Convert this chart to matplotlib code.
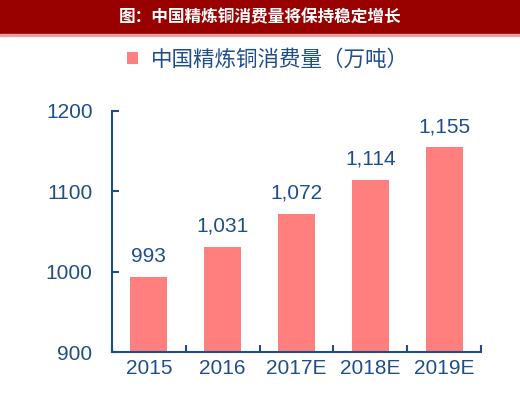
import numpy as np
import matplotlib.pyplot as plt
from matplotlib.patches import Rectangle

years = ['2015', '2016', '2017E', '2018E', '2019E']
consumption = [993, 1031, 1072, 1114, 1155]
value_labels = ['993', '1,031', '1,072', '1,114', '1,155']
y_ticks = [900, 1000, 1100, 1200]

title = '图：中国精炼铜消费量将保持稳定增长'
legend_label = '中国精炼铜消费量（万吨）'

blue = '#1F4E8C'
bar_color = '#FF7F7F'
num_font = ['Liberation Sans', 'DejaVu Sans']
cjk_font = ['Noto Sans CJK SC', 'DejaVu Sans']

fig = plt.figure(figsize=(5.2, 3.93), dpi=100)
ax = fig.add_axes([112/520, 1-352/393, (481-112)/520, (352-111)/393])

x = np.arange(len(years))
bars = ax.bar(x, consumption, width=0.5, color=bar_color, label=legend_label)

for xi, v, lab in zip(x, consumption, value_labels):
    ax.annotate(lab, (xi, v), xytext=(0, 8), textcoords='offset points',
                ha='center', va='bottom', fontsize=15, color=blue, family=num_font)

ax.set_xlim(-0.5, len(years) - 0.5)
ax.set_ylim(900, 1200)
ax.set_yticks(y_ticks)
ax.set_yticklabels([str(t) for t in y_ticks], fontsize=15, color=blue, family=num_font)
ax.set_xticks(x)
ax.set_xticklabels(years, fontsize=15, color=blue, family=num_font)
ax.set_xticks(np.arange(len(years) + 1) - 0.5, minor=True)

ax.tick_params(axis='x', which='major', length=0, pad=5)
ax.tick_params(axis='x', which='minor', direction='in', length=5, width=1.5, color=blue)
ax.tick_params(axis='y', direction='in', length=5, width=1.5, color=blue, pad=14)

for side in ['top', 'right']:
    ax.spines[side].set_visible(False)
for side in ['left', 'bottom']:
    ax.spines[side].set_color(blue)
    ax.spines[side].set_linewidth(1.5)

# Legende oben
leg = fig.legend(handles=[bars], loc='center left', bbox_to_anchor=(108/520, 1-60/393),
                 frameon=False, handlelength=0.5, handleheight=0.5, handletextpad=0.6,
                 prop={'family': cjk_font, 'size': 15.5})
for t in leg.get_texts():
    t.set_color(blue)

# Titelbalken
fig.patches.append(Rectangle((0, 1-34/393), 1, 34/393, transform=fig.transFigure,
                             color='#990000', zorder=0))
fig.patches.append(Rectangle((0, 1-36/393), 1, 2/393, transform=fig.transFigure,
                             color='#E8A0A0', zorder=0))
fig.text(0.5, 1-17/393, title, ha='center', va='center', color='white',
         fontsize=12, fontweight='bold', family=cjk_font)

fig.savefig('out.png', dpi=100)
